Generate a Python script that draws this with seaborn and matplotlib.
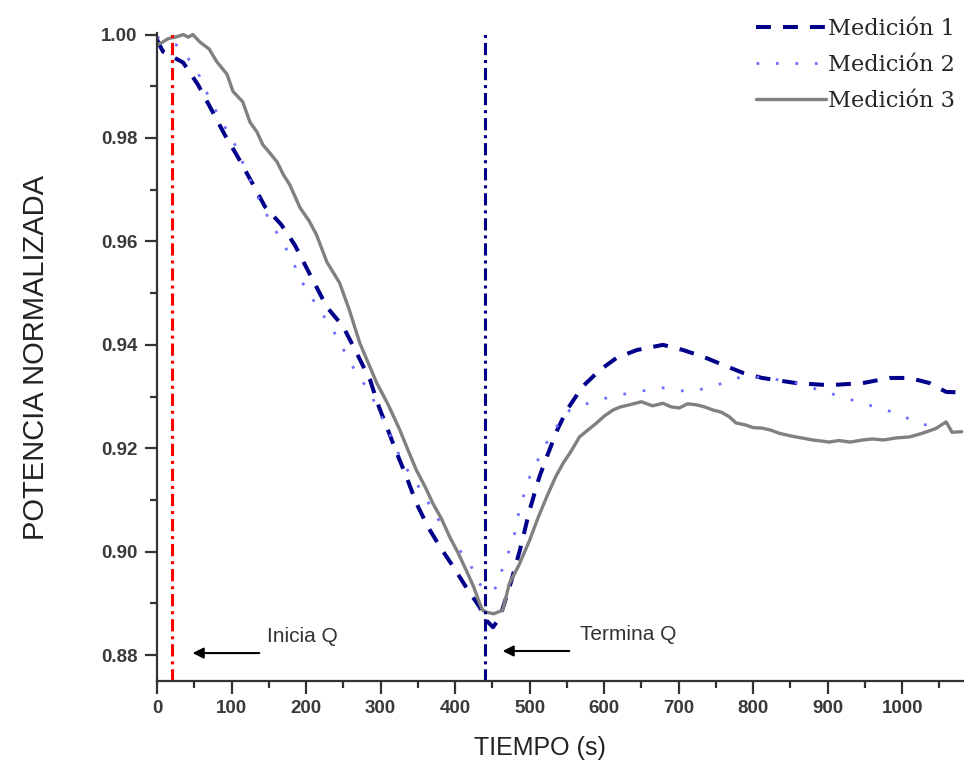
import matplotlib
matplotlib.use("Agg")
import matplotlib.pyplot as plt
import seaborn as sns
import pandas as pd

# ---- data ----
x_m1 = [0, 8, 35, 55, 73, 91, 109, 127, 145, 167, 185, 201, 228, 250, 268, 286, 296, 310, 322, 335,
        348, 364, 380, 398, 415, 433, 442, 451, 460, 473, 487, 500, 513, 523, 537, 550, 571, 594,
        617, 644, 679, 706, 733, 760, 786, 812, 858, 902, 947, 983, 1010, 1037, 1059, 1080]
y_m1 = [0.9990, 0.9967, 0.9946, 0.9903, 0.9855, 0.9806, 0.9762, 0.9715, 0.9667, 0.9632, 0.9593,
        0.9548, 0.9473, 0.9435, 0.9384, 0.9332, 0.9287, 0.9235, 0.9190, 0.9144, 0.9094, 0.9047,
        0.9009, 0.8970, 0.8931, 0.8893, 0.8867, 0.8854, 0.8873, 0.8931, 0.9003, 0.9080, 0.9144,
        0.9183, 0.9235, 0.9274, 0.9319, 0.9351, 0.9375, 0.9390, 0.9400, 0.9390, 0.9377, 0.9361,
        0.9346, 0.9336, 0.9326, 0.9322, 0.9326, 0.9336, 0.9336, 0.9326, 0.9309, 0.9308]

x_m2 = [0, 31, 55, 71, 87, 107, 120, 136, 152, 165, 178, 198, 236, 263, 286, 308, 330, 348, 362,
        384, 406, 420, 429, 442, 456, 464, 478, 487, 500, 513, 527, 540, 554, 590, 634, 679, 714,
        746, 777, 812, 858, 902, 947, 992, 1027, 1059, 1080]
y_m2 = [0.9995, 0.9977, 0.9926, 0.9874, 0.9832, 0.9781, 0.9735, 0.9684, 0.9638, 0.9607, 0.9574,
        0.9512, 0.9429, 0.9357, 0.9307, 0.9241, 0.9171, 0.9133, 0.9100, 0.9047, 0.9003, 0.8978,
        0.8945, 0.8922, 0.8931, 0.8970, 0.9022, 0.9086, 0.9144, 0.9183, 0.9222, 0.9249, 0.9274,
        0.9293, 0.9307, 0.9317, 0.9309, 0.9319, 0.9336, 0.9338, 0.9326, 0.9307, 0.9287, 0.9268,
        0.9245, 0.9249, 0.9252]

x_m3 = [0, 7, 15, 27, 35, 42, 48, 58, 70, 80, 94, 102, 115, 125, 134, 142, 152, 161, 170, 178, 192,
        204, 214, 228, 245, 258, 272, 295, 310, 326, 337, 348, 360, 370, 382, 393, 404, 415, 425,
        433, 437, 442, 452, 464, 473, 486, 500, 512, 523, 535, 545, 556, 567, 578, 590, 600, 612,
        622, 634, 650, 665, 679, 690, 701, 712, 724, 735, 746, 757, 768, 777, 790, 800, 812, 824,
        835, 850, 865, 880, 892, 902, 915, 930, 947, 960, 975, 992, 1010, 1027, 1045, 1059, 1067,
        1080]
y_m3 = [0.9980, 0.9985, 0.9992, 0.9996, 1.0000, 0.9995, 1.0000, 0.9985, 0.9972, 0.9948, 0.9923,
        0.9890, 0.9870, 0.9830, 0.9812, 0.9787, 0.9770, 0.9754, 0.9728, 0.9710, 0.9665, 0.9640,
        0.9613, 0.9560, 0.9520, 0.9468, 0.9404, 0.9326, 0.9285, 0.9235, 0.9196, 0.9158, 0.9125,
        0.9094, 0.9063, 0.9028, 0.8998, 0.8964, 0.8932, 0.8900, 0.8887, 0.8883, 0.8880, 0.8887,
        0.8939, 0.8975, 0.9022, 0.9068, 0.9106, 0.9145, 0.9171, 0.9195, 0.9222, 0.9235, 0.9249,
        0.9262, 0.9274, 0.9280, 0.9284, 0.9290, 0.9282, 0.9287, 0.9280, 0.9278, 0.9286, 0.9284,
        0.9280, 0.9274, 0.9270, 0.9261, 0.9249, 0.9245, 0.9240, 0.9239, 0.9235, 0.9229, 0.9224,
        0.9220, 0.9216, 0.9214, 0.9212, 0.9215, 0.9212, 0.9216, 0.9218, 0.9216, 0.9220, 0.9222,
        0.9229, 0.9238, 0.9251, 0.9231, 0.9232]

labels = ["Medición 1", "Medición 2", "Medición 3"]
colors = ["#00008B", "#6F6FFF", "#808080"]

t_start, t_end = 20, 440
x_ticks = [0, 100, 200, 300, 400, 500, 600, 700, 800, 900, 1000]
y_ticks = [0.88, 0.90, 0.92, 0.94, 0.96, 0.98, 1.00]

df = pd.concat([
    pd.DataFrame({"t": x_m1, "p": y_m1, "serie": labels[0]}),
    pd.DataFrame({"t": x_m2, "p": y_m2, "serie": labels[1]}),
    pd.DataFrame({"t": x_m3, "p": y_m3, "serie": labels[2]}),
])

sns.set_theme(style="ticks")
plt.rcParams["font.family"] = ["Liberation Sans", "DejaVu Sans"]

fig = plt.figure(figsize=(9.64, 7.77), dpi=100)
ax = fig.add_axes([157 / 964, 1 - 681 / 777, 1 - 157 / 964, (681 - 33) / 777])

styles = [
    dict(lw=2.9, dashes=(3.7, 3.0)),
    dict(lw=2.0, dashes=(1.0, 6.0)),
    dict(lw=2.4),
]
handles = []
for lab, col, st in zip(labels, colors, styles):
    sub = df[df["serie"] == lab]
    sns.lineplot(data=sub, x="t", y="p", ax=ax, color=col, sort=False,
                 estimator=None, label=lab, legend=False, **st)
    handles.append(ax.lines[-1])

ax.axvline(t_start, color="red", lw=2.2, ls=(0, (4, 1.6, 1, 1.6)))
ax.axvline(t_end, color="#00008B", lw=2.2, ls=(0, (4, 1.6, 1, 1.6)))

ax.set_xlim(0, 1083)
ax.set_ylim(0.875, 1.0003)
ax.set_xticks(x_ticks)
ax.set_yticks(y_ticks)
ax.set_xticks([50 + 100 * i for i in range(11)], minor=True)
ax.set_yticks([0.89, 0.91, 0.93, 0.95, 0.97, 0.99], minor=True)
ax.set_yticklabels([f"{v:.2f}" for v in y_ticks])

for s in ["top", "right"]:
    ax.spines[s].set_visible(False)
for s in ["left", "bottom"]:
    ax.spines[s].set_color("#333333")
    ax.spines[s].set_linewidth(1.6)

ax.tick_params(axis="both", which="major", direction="out", length=9, width=1.6,
               color="#333333", labelsize=13.5, labelcolor="#3a3a3a", pad=5)
ax.tick_params(axis="both", which="minor", direction="out", length=5, width=1.6,
               color="#333333")
for lbl in ax.get_xticklabels() + ax.get_yticklabels():
    lbl.set_fontweight("bold")

ax.set_xlabel("TIEMPO (s)", fontsize=18, color="#222222")
ax.set_ylabel("POTENCIA NORMALIZADA", fontsize=21, color="#222222")
ax.xaxis.set_label_coords((540 - 157) / (964 - 157), -0.085)
ax.yaxis.set_label_coords(-(157 - 50) / (964 - 157), 0.5)

# annotations
ax.annotate("", xy=(44, 0.8804), xytext=(141, 0.8804),
            arrowprops=dict(arrowstyle="-|>", color="black", lw=1.5, mutation_scale=16))
ax.text(148, 0.8836, "Inicia Q", fontsize=15, color="#333333", va="center", ha="left")
ax.annotate("", xy=(460, 0.8808), xytext=(557, 0.8808),
            arrowprops=dict(arrowstyle="-|>", color="black", lw=1.5, mutation_scale=16))
ax.text(568, 0.8840, "Termina Q", fontsize=15, color="#333333", va="center", ha="left")

fig.legend(handles=handles, labels=labels, loc="upper left",
           bbox_to_anchor=(756 / 964, 1 - 18 / 777), bbox_transform=fig.transFigure,
           frameon=False, borderpad=0, borderaxespad=0, handlelength=3.1,
           handletextpad=0.08, labelspacing=0.62,
           prop={"family": "DejaVu Serif", "size": 16.2})

fig.savefig("out.png", dpi=100)
